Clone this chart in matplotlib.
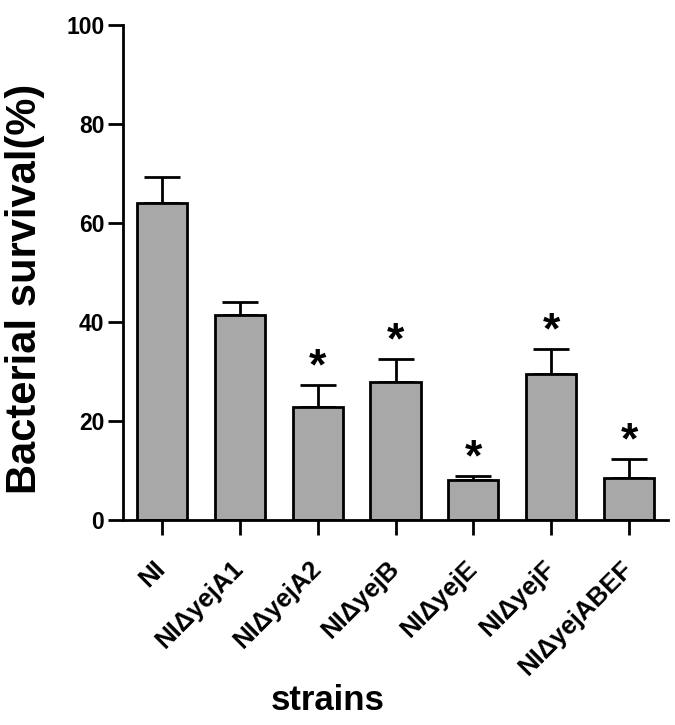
import matplotlib
matplotlib.use("Agg")
import matplotlib.pyplot as plt
from matplotlib.transforms import ScaledTranslation
import numpy as np

plt.rcParams['font.family'] = ['Liberation Sans', 'DejaVu Sans']
plt.rcParams['font.weight'] = 'bold'

strains = ["NI", "NIΔyejA1", "NIΔyejA2", "NIΔyejB", "NIΔyejE", "NIΔyejF", "NIΔyejABEF"]
survival = [64.0, 41.5, 22.8, 27.9, 8.1, 29.4, 8.5]
sem = [5.2, 2.6, 4.4, 4.7, 0.8, 5.1, 3.8]
significant = [False, False, True, True, True, True, True]
yticks = [0, 20, 40, 60, 80, 100]

fig = plt.figure(figsize=(6.75, 7.25), dpi=100)
ax = fig.add_axes([123/675, 1-520/725, (668-123)/675, (520-25)/725])

x = np.arange(len(strains))
ax.bar(x, survival, width=0.645, color='#a8a8a8', edgecolor='black', linewidth=2.0, zorder=2)
ax.errorbar(x, survival, yerr=[np.zeros(len(sem)), sem], fmt='none', ecolor='black',
            elinewidth=2.0, capsize=13, capthick=2.0, zorder=1)

for xi, v, e, s in zip(x, survival, sem, significant):
    if s:
        ax.text(xi, v + e - 0.7, "*", ha='center', va='bottom', fontsize=32, fontweight='bold')

ax.set_xlim(-0.5, 6.5)
ax.set_ylim(0, 100)
ax.set_yticks(yticks)
ax.set_yticklabels([str(t) for t in yticks], fontsize=16.5, fontweight='bold')
ax.set_xticks(x)
ax.set_xticklabels(strains, rotation=45, ha='right', va='center', rotation_mode='anchor',
                   fontsize=18.5, fontweight='bold')
offset = ScaledTranslation(7/100, 0, fig.dpi_scale_trans)
for lab in ax.get_xticklabels():
    lab.set_transform(lab.get_transform() + offset)
for sp in ['top', 'right']:
    ax.spines[sp].set_visible(False)
for sp in ['left', 'bottom']:
    ax.spines[sp].set_linewidth(2.0)
ax.tick_params(axis='both', direction='out', length=10.5, width=2.0)
ax.tick_params(axis='x', pad=22)
ax.tick_params(axis='y', pad=3)

fig.text(25/675, 1-289/725, "Bacterial survival(%)", rotation=90, ha='center', va='center',
         fontsize=30, fontweight='bold')
fig.text(328/675, 1-700/725, "strains", ha='center', va='center', fontsize=25, fontweight='bold')

fig.savefig("out.png", dpi=100)
